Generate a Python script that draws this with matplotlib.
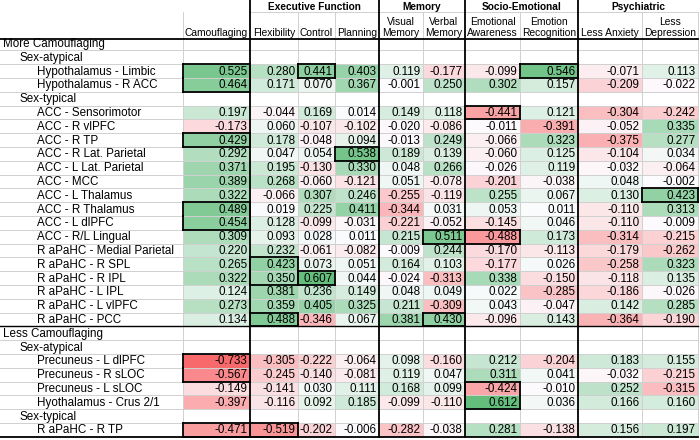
import matplotlib.pyplot as plt
from matplotlib.colors import LinearSegmentedColormap, TwoSlopeNorm
from matplotlib.patches import Rectangle

plt.rcParams["font.family"] = ["Liberation Sans", "DejaVu Sans"]

# row labels, by section
more_atypical = ["Hypothalamus - Limbic", "Hypothalamus - R ACC"]
more_typical = ["ACC - Sensorimotor", "ACC - R vlPFC", "ACC - R TP",
                "ACC - R Lat. Parietal", "ACC - L Lat. Parietal", "ACC - MCC",
                "ACC - L Thalamus", "ACC - R Thalamus", "ACC - L dlPFC",
                "ACC - R/L Lingual", "R aPaHC - Medial Parietal",
                "R aPaHC - R SPL", "R aPaHC - R IPL", "R aPaHC - L IPL",
                "R aPaHC - L vlPFC", "R aPaHC - PCC"]
less_atypical = ["Precuneus - L dlPFC", "Precuneus - R sLOC",
                 "Precuneus - L sLOC", "Hyothalamus - Crus 2/1"]
less_typical = ["R aPaHC - R TP"]

columns = ["Camouflaging", "Flexibility", "Control", "Planning",
           "Visual\nMemory", "Verbal\nMemory", "Emotional\nAwareness",
           "Emotion\nRecognition", "Less Anxiety", "Less\nDepression"]
groups = ["Executive Function", "Memory", "Socio-Emotional", "Psychiatric"]
group_spans = [(1, 3), (4, 5), (6, 7), (8, 9)]

camouflaging = [0.525, 0.464, 0.197, -0.173, 0.429, 0.292, 0.371, 0.389,
                0.322, 0.489, 0.454, 0.309, 0.220, 0.265, 0.322, 0.124,
                0.273, 0.134, -0.733, -0.567, -0.149, -0.397, -0.471]
flexibility = [0.280, 0.171, -0.044, 0.060, 0.178, 0.047, 0.195, 0.268,
               -0.066, 0.019, 0.128, 0.093, 0.232, 0.423, 0.350, 0.381,
               0.359, 0.488, -0.305, -0.245, -0.141, -0.116, -0.519]
control = [0.441, 0.070, 0.169, -0.107, -0.048, 0.054, -0.130, -0.060,
           0.307, 0.225, -0.099, 0.028, -0.061, 0.073, 0.607, 0.236,
           0.405, -0.346, -0.222, -0.140, 0.030, 0.092, -0.202]
planning = [0.403, 0.367, 0.014, -0.102, 0.094, 0.538, 0.330, -0.121,
            0.246, 0.411, -0.031, 0.011, -0.082, 0.051, 0.044, 0.149,
            0.325, 0.067, -0.064, -0.081, 0.111, 0.185, -0.006]
visual_memory = [0.119, -0.001, 0.149, -0.020, -0.013, 0.189, 0.048, 0.051,
                 -0.255, -0.344, -0.221, 0.215, -0.009, 0.164, -0.024, 0.048,
                 0.211, 0.381, 0.098, 0.119, 0.168, -0.099, -0.282]
verbal_memory = [-0.177, 0.250, 0.118, -0.086, 0.249, 0.139, 0.266, -0.078,
                 -0.119, 0.031, -0.052, 0.511, 0.244, 0.103, -0.313, 0.049,
                 -0.309, 0.430, -0.160, 0.047, 0.099, -0.110, -0.038]
emotional_awareness = [-0.099, 0.302, -0.441, -0.011, -0.066, -0.060, -0.026,
                       -0.201, 0.255, 0.053, -0.145, -0.488, -0.170, -0.177,
                       0.338, 0.022, 0.043, -0.096, 0.212, 0.311, -0.424,
                       0.612, 0.281]
emotion_recognition = [0.546, 0.157, 0.121, -0.391, 0.323, 0.125, 0.119,
                       -0.038, 0.067, 0.011, 0.046, 0.173, -0.113, 0.026,
                       -0.150, -0.285, -0.047, 0.143, -0.204, 0.041, -0.010,
                       0.036, -0.138]
less_anxiety = [-0.071, -0.209, -0.304, -0.052, -0.375, -0.104, -0.032, 0.048,
                0.130, -0.110, -0.110, -0.314, -0.179, -0.258, -0.118, -0.186,
                0.142, -0.364, 0.183, -0.032, 0.252, 0.166, 0.156]
less_depression = [0.113, -0.022, -0.242, 0.335, 0.277, 0.034, -0.064, -0.002,
                   0.423, 0.313, -0.009, -0.215, -0.262, 0.323, 0.135, -0.026,
                   0.285, -0.190, 0.155, -0.215, -0.315, 0.160, 0.197]

# (data row, column) of the outlined cells
significant = [(0, 0), (1, 0), (4, 0), (9, 0), (10, 0), (18, 0), (19, 0),
               (22, 0), (13, 1), (14, 1), (17, 1), (22, 1), (0, 2), (14, 2),
               (5, 3), (11, 5), (17, 5), (2, 6), (11, 6), (20, 6), (21, 6),
               (0, 7), (8, 9)]

values = [camouflaging, flexibility, control, planning, visual_memory,
          verbal_memory, emotional_awareness, emotion_recognition,
          less_anxiety, less_depression]

# layout, in pixels
col_edges = [183, 250, 298, 335, 379, 423, 465, 520, 578, 642, 698]
thick_cols = [250, 379, 465, 578]
row_top, row_h = 36.6, 13.8
header_line = 39.3
body_fs, head_fs, group_fs = 8.4, 7.4, 7.3

rows = [("More Camouflaging", 3, None), ("Sex-atypical", 20, None)]
k = 0
for section, sub in [(more_atypical, None), (more_typical, "Sex-typical"),
                     (less_atypical, None), (less_typical, "Sex-typical")]:
    if section is less_atypical:
        rows += [("Less Camouflaging", 3, None), ("Sex-atypical", 20, None)]
    if sub:
        rows.append((sub, 20, None))
    for label in section:
        rows.append((label, 37, k))
        k += 1
row_keys = [r[2] for r in rows]

cmap = LinearSegmentedColormap.from_list("excel", ["#F8696B", "#FCFCFF", "#63BE7B"])
all_vals = [v for col in values for v in col]
norm = TwoSlopeNorm(vmin=min(all_vals), vcenter=0, vmax=max(all_vals))

fig = plt.figure(figsize=(7, 4.4), dpi=100)
ax = fig.add_axes([0, 0, 1, 1])
ax.set_xlim(0, 700)
ax.set_ylim(440, 0)
ax.axis("off")

bottom = row_top + row_h * len(rows)
grid = "#d0d0d0"

data_pos = {}
for i, (label, indent, k) in enumerate(rows):
    y = row_top + i * row_h
    ax.text(indent, y + row_h / 2 + 0.5, label, fontsize=body_fs,
            ha="left", va="center")
    if k is None:
        continue
    data_pos[k] = y
    for c, col in enumerate(values):
        x0, x1 = col_edges[c], col_edges[c + 1]
        ax.add_patch(Rectangle((x0, y), x1 - x0, row_h,
                               facecolor=cmap(norm(col[k])), edgecolor="none"))
        ax.text(x1 - 2.5, y + row_h / 2 + 0.5, f"{col[k]:.3f}",
                fontsize=body_fs, ha="right", va="center")

# light cell grid
for i in range(1, len(rows)):
    ax.plot([0, col_edges[-1]], [row_top + i * row_h] * 2, color=grid, lw=0.7)
for x in col_edges:
    if x not in thick_cols:
        ax.plot([x, x], [12, bottom], color=grid, lw=0.7)
ax.plot([250, col_edges[-1]], [12, 12], color=grid, lw=0.7)

# header
for name, (a, b) in zip(groups, group_spans):
    ax.text((col_edges[a] + col_edges[b + 1]) / 2, 6.5, name, fontsize=group_fs,
            fontweight="bold", ha="center", va="center")
for c, name in enumerate(columns):
    xc = (col_edges[c] + col_edges[c + 1]) / 2
    for j, line in enumerate(reversed(name.split("\n"))):
        ax.text(xc, 33.5 - j * 11.5, line, fontsize=head_fs,
                ha="center", va="center")

# heavy rules
ax.plot([0, col_edges[-1]], [header_line] * 2, color="black", lw=1.3)
ax.plot([0, col_edges[-1]], [bottom] * 2, color="black", lw=1.3)
less_top = row_top + [r[0] for r in rows].index("Less Camouflaging") * row_h
ax.plot([0, col_edges[-1]], [less_top] * 2, color="black", lw=1.0)
for x in thick_cols:
    ax.plot([x, x], [0, bottom], color="black", lw=1.3)

# outlines around significant cells, merged where they touch
sig = set(significant)
for k, c in significant:
    x0, x1 = col_edges[c], col_edges[c + 1]
    y0 = data_pos[k]
    y1 = y0 + row_h
    idx = row_keys.index(k)
    prev_row = row_keys[idx - 1]
    next_row = row_keys[idx + 1] if idx + 1 < len(rows) else None
    if prev_row is None or (prev_row, c) not in sig:
        ax.plot([x0, x1], [y0, y0], color="black", lw=1.3)
    if next_row is None or (next_row, c) not in sig:
        ax.plot([x0, x1], [y1, y1], color="black", lw=1.3)
    ax.plot([x0, x0], [y0, y1], color="black", lw=1.3)
    ax.plot([x1, x1], [y0, y1], color="black", lw=1.3)

fig.savefig("out.png", dpi=100)
